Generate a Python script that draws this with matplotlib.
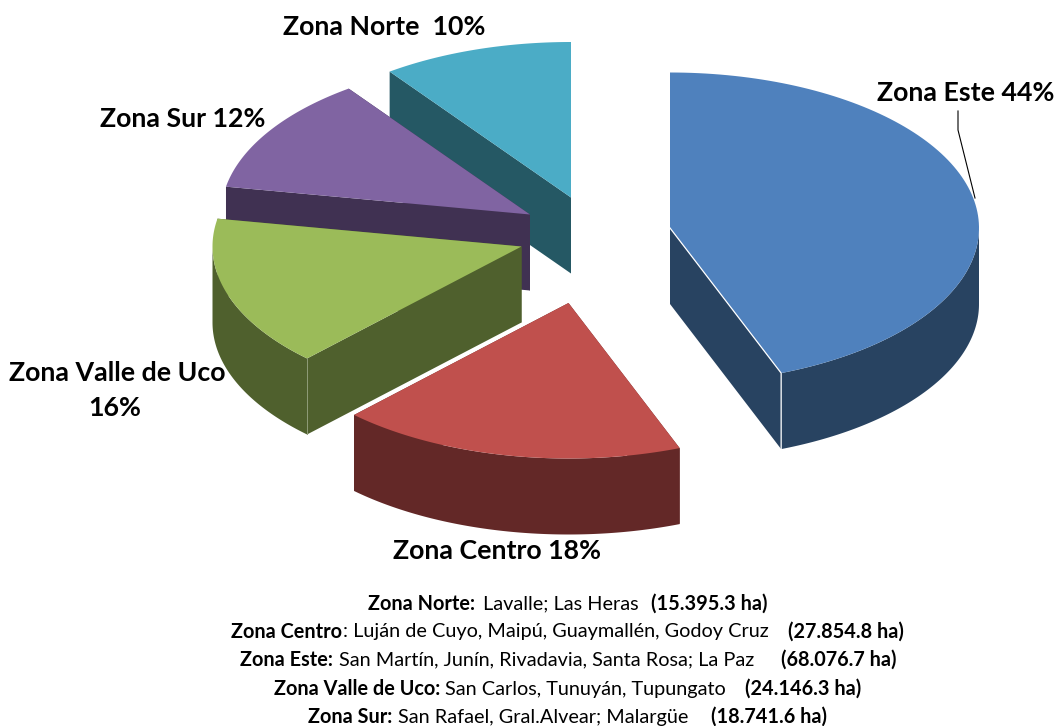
import numpy as np
import matplotlib
matplotlib.use('Agg')
import matplotlib.pyplot as plt

# Hectares per zone, clockwise from 12 o'clock
zonas = ['Zona Este', 'Zona Centro', 'Zona Valle de Uco', 'Zona Sur', 'Zona Norte']
hectareas = [68076.7, 27854.8, 24146.3, 18741.6, 15395.3]

top_colors = ['#4F81BD', '#C0504D', '#9BBB59', '#8064A2', '#4BACC6']
side_colors = ['#284361', '#632827', '#4F602D', '#403152', '#255864']

# Where each slice's apex ended up after the explosion, in pixels
apex_x = [670, 568.5, 521.5, 530, 571]
apex_y = [228, 303, 246.5, 214.5, 197.5]

RX = 309
RY = 155.5
DEPTH = 76

# back to front
draw_order = [4, 3, 2, 0, 1]

# label text, x, y (pixels)
labels = [
    ('Zona Este 44%', 877, 93),
    ('Zona Centro 18%', 393, 551),
    ('Zona Valle de Uco', 9, 373),
    ('16%', 88, 408),
    ('Zona Sur 12%', 100, 119),
    ('Zona Norte  10%', 283, 27),
]

# footer rows: bold name, towns, bold area with their x positions
footer_y = [604, 632, 660, 689, 717]
footer_names = ['Zona Norte:', 'Zona Centro', 'Zona Este:', 'Zona Valle de Uco:', 'Zona Sur:']
footer_names_x = [368, 231, 240, 274, 308]
footer_towns = ['Lavalle; Las Heras',
                ': Luján de Cuyo, Maipú, Guaymallén, Godoy Cruz',
                'San Martín, Junín, Rivadavia, Santa Rosa; La Paz',
                'San Carlos, Tunuyán, Tupungato',
                'San Rafael, Gral.Alvear; Malargüe']
footer_towns_x = [483, 343, 339, 445, 398]
footer_areas = ['(15.395.3 ha)', '(27.854.8 ha)', '(68.076.7 ha)', '(24.146.3 ha)', '(18.741.6 ha)']
footer_areas_x = [651, 788, 781, 745, 711]

fig = plt.figure(figsize=(10.56, 7.26), dpi=100)
ax = fig.add_axes([0, 0, 1, 1])
ax.set_xlim(0, 1056)
ax.set_ylim(726, 0)
ax.axis('off')

# Slice angles come from the data
edges = np.concatenate([[0], np.cumsum(hectareas)]) / np.sum(hectareas) * 2 * np.pi

for i in draw_order:
    t = np.linspace(edges[i], edges[i + 1], 120)
    rim_x = apex_x[i] + RX * np.sin(t)
    rim_y = apex_y[i] - RY * np.cos(t)

    # the two flat cut faces
    for ex, ey in [(rim_x[0], rim_y[0]), (rim_x[-1], rim_y[-1])]:
        ax.fill([apex_x[i], ex, ex, apex_x[i]],
                [apex_y[i], ey, ey + DEPTH, apex_y[i] + DEPTH],
                color=side_colors[i], linewidth=0)

    # outer wall, only the front half of the ellipse can be seen
    t_front = np.linspace(max(edges[i], np.pi / 2), min(edges[i + 1], 3 * np.pi / 2), 120)
    if edges[i] < 3 * np.pi / 2 and edges[i + 1] > np.pi / 2:
        wall_x = apex_x[i] + RX * np.sin(t_front)
        wall_y = apex_y[i] - RY * np.cos(t_front)
        ax.fill(np.concatenate([wall_x, wall_x[::-1]]),
                np.concatenate([wall_y, wall_y[::-1] + DEPTH]),
                color=side_colors[i], linewidth=0)

    ax.fill(np.concatenate([[apex_x[i]], rim_x]), np.concatenate([[apex_y[i]], rim_y]),
            color=top_colors[i], linewidth=0)

    # light edge lines on the slices that show them
    if zonas[i] == 'Zona Este':
        ax.plot([apex_x[i], rim_x[-1], rim_x[-1]], [apex_y[i], rim_y[-1], rim_y[-1] + DEPTH],
                color='white', lw=0.9)
    if zonas[i] == 'Zona Valle de Uco':
        ax.plot([rim_x[0], rim_x[0]], [rim_y[0], rim_y[0] + DEPTH], color='#8F9C78', lw=0.7)

# leader line for Zona Este
ax.plot([958, 958, 975], [111, 130, 198], color='black', lw=0.8)

for text, lx, ly in labels:
    ax.text(lx, ly, text, fontsize=19.3, fontweight='bold', family='Lato',
            ha='left', va='center', color='black')

for row in range(len(footer_y)):
    ax.text(footer_names_x[row], footer_y[row], footer_names[row], fontsize=14.3,
            fontweight='bold', family='Lato', ha='left', va='center')
    ax.text(footer_towns_x[row], footer_y[row], footer_towns[row], fontsize=14.3,
            family='Lato', ha='left', va='center')
    ax.text(footer_areas_x[row], footer_y[row], footer_areas[row], fontsize=14.3,
            fontweight='bold', family='Lato', ha='left', va='center')

fig.savefig('out.png', dpi=100)
